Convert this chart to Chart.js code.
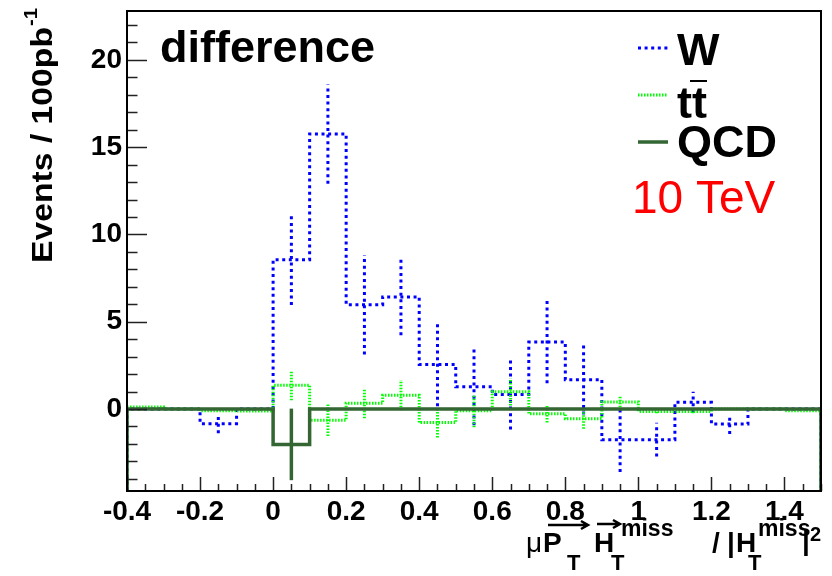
<!DOCTYPE html>
<html>
<head>
<meta charset="utf-8">
<script src="https://cdn.jsdelivr.net/npm/chart.js@4.4.1/dist/chart.umd.min.js"></script>
<style>
  html, body { margin: 0; padding: 0; background: #fff; }
  canvas { display: block; }
</style>
</head>
<body>
<canvas id="chart-difference" width="832" height="576"></canvas>
<script>
// bin edges of the histograms (width 0.1)
const binEdges = [-0.4, -0.3, -0.2, -0.1, 0, 0.1, 0.2, 0.3, 0.4, 0.5, 0.6, 0.7, 0.8, 0.9, 1.0, 1.1, 1.2, 1.3, 1.4, 1.5];

// W difference per bin and its errors
const wValues = [0, 0, -0.84, 0, 8.55, 15.75, 5.97, 6.42, 2.55, 1.27, 0.83, 3.83, 1.68, -1.76, -1.76, 0.38, -0.86, 0, 0];
const wErrors = [0, 0, 0.55, 0, 2.6, 2.85, 2.85, 2.2, 2.4, 2.2, 2.0, 2.35, 2.0, 1.85, 0.97, 0.6, 0.57, 0, 0];

// ttbar difference per bin and its errors
const ttValues = [0.11, 0, -0.1, -0.12, 1.36, -0.65, 0.33, 0.79, -0.78, -0.1, 0.98, -0.27, -0.56, 0.4, -0.15, -0.15, 0, 0, -0.1];
const ttErrors = [0, 0, 0, 0, 0.86, 0.9, 0.86, 0.87, 0.85, 0.95, 0.78, 0.5, 0.57, 0.3, 0.1, 0.1, 0, 0, 0];

// QCD difference per bin and its errors
const qcdValues = [0, 0, 0, 0, -2.03, 0, 0, 0, 0, 0, 0, 0, 0, 0, 0, 0, 0, 0, 0];
const qcdErrors = [0, 0, 0, 0, 2.05, 0, 0, 0, 0, 0, 0, 0, 0, 0, 0, 0, 0, 0, 0];

// axis ticks and ranges
const xTicks = [-0.4, -0.2, 0, 0.2, 0.4, 0.6, 0.8, 1, 1.2, 1.4];
const yTicks = [0, 5, 10, 15, 20];
const xRange = [-0.4, 1.5];
const yRange = [-4.7, 22.8];

const FONT = '"Liberation Sans", Arial, Helvetica, sans-serif';
const W_COLOR = '#0000ff';
const TT_COLOR = '#00ff00';
const QCD_COLOR = '#336633';

// histogram outline: starts and ends on the bottom of the frame, like ROOT does
function histPoints(values) {
  const pts = [{ x: binEdges[0], y: yRange[0] }];
  values.forEach((v, i) => {
    pts.push({ x: binEdges[i], y: v }, { x: binEdges[i + 1], y: v });
  });
  pts.push({ x: binEdges[binEdges.length - 1], y: yRange[0] });
  return pts;
}

// vertical error bars at bin centres, split by null gaps
function errorPoints(values, errors) {
  const pts = [];
  values.forEach((v, i) => {
    if (!errors[i]) return;
    const c = (binEdges[i] + binEdges[i + 1]) / 2;
    pts.push({ x: c, y: v - errors[i] }, { x: c, y: v + errors[i] }, { x: c, y: null });
  });
  return pts;
}

const styles = {
  W: { borderColor: W_COLOR, borderWidth: 3, borderDash: [3, 3.6] },
  tt: { borderColor: TT_COLOR, borderWidth: 3, borderDash: [1.5, 1.5] },
  QCD: { borderColor: QCD_COLOR, borderWidth: 3.5, borderDash: [] }
};

function txt(ctx, s, x, y, font, color) {
  ctx.font = font;
  ctx.fillStyle = color || '#000';
  ctx.textAlign = 'left';
  ctx.textBaseline = 'alphabetic';
  ctx.fillText(s, x, y);
}

function arrow(ctx, x0, x1, y) {
  ctx.beginPath();
  ctx.moveTo(x0, y);
  ctx.lineTo(x1, y);
  ctx.moveTo(x1 - 7, y - 4);
  ctx.lineTo(x1, y);
  ctx.lineTo(x1 - 7, y + 4);
  ctx.stroke();
}

// frame, inward ticks, texts, legend and axis titles in ROOT style
const rootDecor = {
  id: 'rootDecor',
  afterDraw(chart) {
    const ctx = chart.ctx;
    const { left, right, top, bottom } = chart.chartArea;
    const xs = chart.scales.x;
    const ys = chart.scales.y;
    ctx.save();

    // ticks
    ctx.strokeStyle = '#222';
    ctx.lineWidth = 1.5;
    ctx.beginPath();
    for (let k = 0; k <= 38; k++) {
      const v = xRange[0] + k * 0.05;
      const px = Math.round(xs.getPixelForValue(v)) + 0.5;
      const major = k % 4 === 0;
      ctx.moveTo(px, bottom);
      ctx.lineTo(px, bottom - (major ? 14 : 7));
    }
    for (let v = -4; v <= 22; v++) {
      const py = Math.round(ys.getPixelForValue(v)) + 0.5;
      const major = v % 5 === 0;
      ctx.moveTo(left, py);
      ctx.lineTo(left + (major ? 20 : 10.5), py);
    }
    ctx.stroke();

    // frame
    ctx.strokeStyle = '#000';
    ctx.lineWidth = 2;
    ctx.strokeRect(left, top, right - left, bottom - top);

    // title inside the pad
    txt(ctx, 'difference', 160, 62, 'bold 45px ' + FONT);

    // legend
    const entries = [
      { key: 'W', label: 'W', y: 48, base: 65 },
      { key: 'tt', label: 'tt', y: 95, base: 118 },
      { key: 'QCD', label: 'QCD', y: 142, base: 157 }
    ];
    entries.forEach(e => {
      const st = styles[e.key];
      ctx.strokeStyle = st.borderColor;
      ctx.lineWidth = st.borderWidth;
      ctx.setLineDash(st.borderDash);
      ctx.beginPath();
      ctx.moveTo(638, e.y);
      ctx.lineTo(668, e.y);
      ctx.stroke();
      ctx.setLineDash([]);
      txt(ctx, e.label, 677, e.base, 'bold 45px ' + FONT);
    });
    // bar over the second t
    ctx.strokeStyle = '#000';
    ctx.lineWidth = 2;
    ctx.beginPath();
    ctx.moveTo(690, 81);
    ctx.lineTo(707, 81);
    ctx.stroke();

    txt(ctx, '10 TeV', 632, 213, '46px ' + FONT, '#ff0000');

    // y axis title, stretched a little along the text like the original
    ctx.save();
    ctx.translate(52, 263);
    ctx.rotate(-Math.PI / 2);
    ctx.font = 'bold 30px ' + FONT;
    const w = ctx.measureText('Events / 100pb').width;
    ctx.scale(236 / w, 1);
    txt(ctx, 'Events / 100pb', 0, 0, 'bold 30px ' + FONT);
    txt(ctx, '-1', w + 1, -15, 'bold 18px ' + FONT);
    ctx.restore();

    // x axis title
    const B = 'bold 28px ' + FONT;
    const S = 'bold 22px ' + FONT;
    const SUP = 'bold 23px ' + FONT;
    txt(ctx, '\u03bc', 526, 552, '28px ' + FONT);
    txt(ctx, 'P', 543, 552, B);
    txt(ctx, 'T', 567, 570, S);
    txt(ctx, 'H', 594, 552, B);
    txt(ctx, 'T', 611, 570, S);
    txt(ctx, 'miss', 621, 536, SUP);
    txt(ctx, '/', 712, 552, B);
    txt(ctx, '|', 727, 552, B);
    txt(ctx, 'H', 736, 552, B);
    txt(ctx, 'T', 748, 570, S);
    txt(ctx, 'miss', 758, 536, SUP);
    txt(ctx, '|', 802, 550, B);
    txt(ctx, '2', 810, 541, 'bold 20px ' + FONT);
    ctx.strokeStyle = '#000';
    ctx.lineWidth = 2.5;
    arrow(ctx, 548, 588, 525);
    arrow(ctx, 597, 620, 524);

    ctx.restore();
  }
};

function dataset(label, data, key, order) {
  return Object.assign({ label, data, order, fill: false, pointRadius: 0, tension: 0, borderCapStyle: 'butt', spanGaps: false }, styles[key]);
}

new Chart(document.getElementById('chart-difference'), {
  type: 'line',
  data: {
    datasets: [
      dataset('QCD', histPoints(qcdValues), 'QCD', 0),
      dataset('QCD errors', errorPoints(qcdValues, qcdErrors), 'QCD', 0),
      dataset('tt', histPoints(ttValues), 'tt', 1),
      dataset('tt errors', errorPoints(ttValues, ttErrors), 'tt', 1),
      dataset('W', histPoints(wValues), 'W', 2),
      dataset('W errors', errorPoints(wValues, wErrors), 'W', 2)
    ]
  },
  options: {
    responsive: false,
    animation: false,
    layout: { padding: { top: 11, right: 11, left: 0, bottom: 0 } },
    plugins: { legend: { display: false }, tooltip: { enabled: false } },
    scales: {
      x: {
        type: 'linear',
        min: xRange[0],
        max: xRange[1],
        afterFit: s => { s.height = 85; s.paddingLeft = 0; s.paddingRight = 0; },
        afterBuildTicks: s => { s.ticks = xTicks.map(v => ({ value: v })); },
        grid: { display: false, drawTicks: false },
        border: { display: false },
        ticks: {
          color: '#000',
          padding: 4,
          maxRotation: 0,
          autoSkip: false,
          font: { size: 28, weight: 'bold', family: FONT },
          callback: v => String(v)
        }
      },
      y: {
        type: 'linear',
        min: yRange[0],
        max: yRange[1],
        afterFit: s => { s.width = 127; s.paddingTop = 0; s.paddingBottom = 0; },
        afterBuildTicks: s => { s.ticks = yTicks.map(v => ({ value: v })); },
        grid: { display: false, drawTicks: false },
        border: { display: false },
        ticks: {
          color: '#000',
          padding: 5,
          font: { size: 28, weight: 'bold', family: FONT },
          callback: v => String(v)
        }
      }
    }
  },
  plugins: [rootDecor]
});
</script>
</body>
</html>
